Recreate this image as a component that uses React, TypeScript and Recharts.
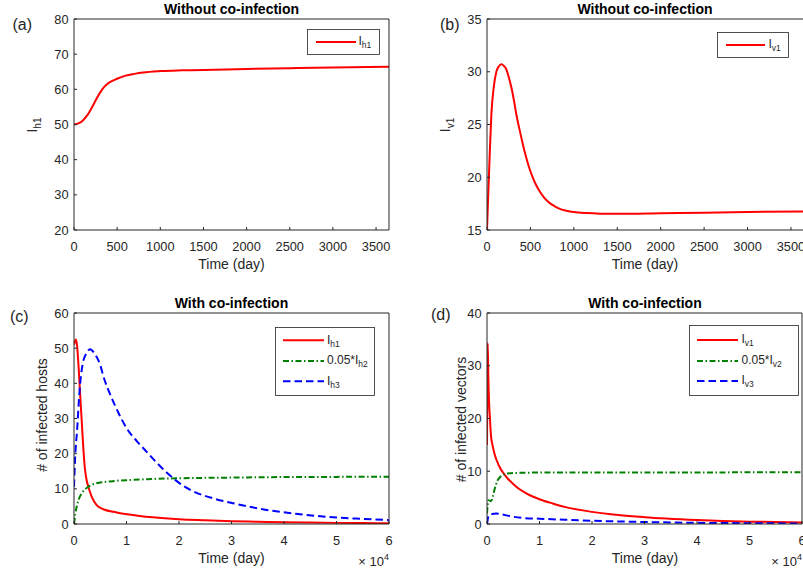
import React from 'react';
import { LineChart, Line, XAxis, YAxis, Legend } from 'recharts';

const FONT = '"Liberation Sans", Arial, Helvetica, sans-serif';
const AXIS = '#262626';
const RED = '#ff0000';
const GREEN = '#008000';
const BLUE = '#0000ff';
const DASH = '7.5 4';
const DASHDOT = '6 2.5 1.5 2.5';

// (a) I_h1 without co-infection
const A_T = [0, 50, 100, 150, 200, 250, 300, 350, 400, 500, 600, 700, 800, 1000, 1250, 1500, 2000, 2500, 3000, 3650];
const A_IH1 = [50, 50.3, 51.1, 52.5, 54.5, 56.8, 59.0, 60.7, 61.8, 63.0, 63.9, 64.4, 64.8, 65.2, 65.4, 65.5, 65.8, 66.0, 66.2, 66.4];

// (b) I_v1 without co-infection
const B_T = [0, 15, 31, 50, 77, 108, 135, 166, 195, 224, 250, 281, 310, 339, 367, 397, 425, 454, 490, 531, 570, 608, 660, 723, 780, 839, 900, 954, 1050, 1146, 1300, 1500, 2000, 2500, 3000, 3650];
const B_IV1 = [15, 18.5, 22.1, 25.9, 28.5, 30.0, 30.5, 30.7, 30.55, 30.2, 29.5, 28.5, 27.3, 25.9, 24.8, 23.7, 22.7, 21.8, 20.8, 19.9, 19.2, 18.65, 18.05, 17.55, 17.25, 17.0, 16.85, 16.75, 16.65, 16.6, 16.55, 16.53, 16.58, 16.64, 16.7, 16.76];

// (c) hosts with co-infection
const C_T_H1 = [0, 200, 380, 600, 900, 1143, 1460, 1778, 2095, 2400, 2730, 3365, 4318, 5587, 8127, 10540, 12500, 15000, 20000, 25000, 30000, 35000, 40000, 45000, 50000, 55000, 60000];
const C_IH1 = [51, 52, 52.5, 50.5, 44, 37.5, 29.6, 21.5, 15.5, 12.5, 10.6, 7.8, 5.4, 4.2, 3.3, 2.7, 2.3, 1.9, 1.35, 1.05, 0.8, 0.65, 0.5, 0.4, 0.32, 0.27, 0.22];
const C_T_H2 = [0, 250, 508, 900, 1460, 2000, 2730, 3500, 4318, 5500, 6857, 8500, 10540, 15000, 20000, 30000, 40000, 50000, 60000];
const C_IH2 = [0, 2.8, 4.9, 7.0, 8.7, 9.7, 10.6, 11.2, 11.6, 11.9, 12.1, 12.35, 12.5, 12.8, 13.0, 13.2, 13.35, 13.4, 13.45];
const C_T_H3 = [0, 190, 635, 1016, 1650, 2400, 3050, 4000, 5000, 5600, 6850, 8500, 10000, 12000, 13800, 15700, 17600, 20200, 22700, 26500, 30300, 36700, 43000, 49400, 55000, 60000];
const C_IH3 = [10.5, 18, 27.7, 37, 45.5, 48.6, 49.7, 48.3, 45.2, 42, 37, 31.5, 27.3, 23.5, 20.6, 17.5, 14.7, 11.5, 9.3, 7.3, 5.9, 4.0, 2.8, 1.9, 1.45, 1.1];

// (d) vectors with co-infection
const D_T_V1 = [0, 60, 130, 250, 400, 580, 770, 1000, 1400, 2350, 3630, 5520, 8070, 10000, 12500, 15000, 20000, 25000, 30000, 40000, 50000, 60000];
const D_IV1 = [15, 25, 34.3, 28, 23, 19.7, 16.6, 15.2, 13.4, 10.9, 9.0, 7.1, 5.5, 4.7, 3.9, 3.2, 2.3, 1.7, 1.3, 0.78, 0.45, 0.3];
const D_T_V2 = [0, 150, 320, 770, 1100, 1400, 2040, 2500, 2990, 3500, 4260, 6000, 10000, 20000, 40000, 60000];
const D_IV2 = [2.0, 3.8, 4.5, 4.3, 5.2, 6.4, 8.3, 8.9, 9.3, 9.5, 9.6, 9.7, 9.75, 9.75, 9.78, 9.8];
const D_T_V3 = [0, 200, 450, 1000, 1715, 2500, 4260, 6800, 10000, 15000, 20000, 30000, 40000, 50000, 60000];
const D_IV3 = [0, 1.2, 1.7, 1.9, 2.0, 1.9, 1.5, 1.15, 1.0, 0.8, 0.62, 0.38, 0.22, 0.15, 0.1];

const DAY_TICKS = [0, 500, 1000, 1500, 2000, 2500, 3000, 3500];
const E4_TICKS = [0, 10000, 20000, 30000, 40000, 50000, 60000];

const zip = (t: number[], v: number[]) => t.map((x, i) => ({ t: x, v: v[i] }));

type Series = { key: string; data: { t: number; v: number }[]; color: string; dash?: string };
type Row = { pre?: string; sub: string; color: string; dash?: string };

const LegendBox = ({ w, h, rows, rowY, lx0, lx1, tx }: any) => (
  <svg width={w} height={h} style={{ display: 'block', fontFamily: FONT }}>
    <rect x={0.5} y={0.5} width={w - 1} height={h - 1} fill="#fff" stroke={AXIS} strokeWidth={0.8} />
    {rows.map((r: Row, i: number) => (
      <g key={i}>
        <line x1={lx0} x2={lx1} y1={rowY[i]} y2={rowY[i]} stroke={r.color} strokeWidth={2} strokeDasharray={r.dash} />
        <text x={tx} y={rowY[i] + 3.3} fontSize={12} fill={AXIS}>
          {(r.pre || '') + 'I'}
          <tspan dy={3} fontSize={8.5}>{r.sub}</tspan>
        </text>
      </g>
    ))}
  </svg>
);

// axis strips: bottom 30px, left 40px, top/right 1px (must be > 0 to be drawn)
const XH = 30;
const YW = 40;

const Panel = ({ box, plot, xMax, xTicks, e4, yMin, yMax, yTicks, series, legend, annot }: any) => {
  const tickStyle = { fontSize: 12.8, fill: AXIS, fontFamily: FONT };
  const margin = {
    top: plot.top - 1,
    left: plot.left - YW,
    right: box.w - plot.right - 1,
    bottom: box.h - plot.bottom - XH,
  };
  return (
    <div style={{ position: 'absolute', left: box.x, top: box.y }}>
      <LineChart width={box.w} height={box.h} margin={margin}>
        <XAxis dataKey="t" type="number" domain={[0, xMax]} ticks={xTicks} interval={0} allowDataOverflow
          height={XH} tickSize={-3} tickMargin={15} stroke={AXIS} tick={tickStyle}
          tickFormatter={(v: number) => (e4 ? String(v / 10000) : String(v))} />
        <XAxis xAxisId="top" orientation="top" dataKey="t" type="number" domain={[0, xMax]} ticks={xTicks}
          interval={0} allowDataOverflow height={1} tickSize={-3} tick={false} stroke={AXIS} />
        <YAxis type="number" domain={[yMin, yMax]} ticks={yTicks} interval={0} allowDataOverflow
          width={YW} tickSize={-3} tickMargin={8.5} stroke={AXIS} tick={tickStyle}
          label={{ content: () => annot }} />
        <YAxis yAxisId="right" orientation="right" type="number" domain={[yMin, yMax]} ticks={yTicks}
          interval={0} allowDataOverflow width={1} tickSize={-3} tick={false} stroke={AXIS} />
        {series.map((s: Series) => (
          <Line key={s.key} data={s.data} dataKey="v" type="monotone" stroke={s.color} strokeWidth={2}
            strokeDasharray={s.dash} dot={false} activeDot={false} isAnimationActive={false} />
        ))}
        <Legend layout="vertical" align="center" verticalAlign="middle"
          wrapperStyle={{ left: legend.x, top: legend.y, width: legend.w, height: legend.h }}
          content={() => <LegendBox {...legend} />} />
      </LineChart>
    </div>
  );
};

const Annot = ({ tag, tagX, tagY, title, titleX, titleY, xlab, xlabY, ylab, ysub, ylabX, ylabY, e4X, e4Y }: any) => (
  <g style={{ fontFamily: FONT }}>
    <text x={tagX} y={tagY} fontSize={16} fill={AXIS}>{tag}</text>
    <text x={titleX} y={titleY} fontSize={14} fontWeight="bold" textAnchor="middle" fill="#000">{title}</text>
    <text x={titleX} y={xlabY} fontSize={14} textAnchor="middle" fill={AXIS}>{xlab}</text>
    <text x={ylabX} y={ylabY} transform={`rotate(-90 ${ylabX} ${ylabY})`} fontSize={14} textAnchor="middle" fill={AXIS}>
      {ylab}
      {ysub ? <tspan dy={3.5} fontSize={10}>{ysub}</tspan> : null}
    </text>
    {e4X ? (
      <text x={e4X} y={e4Y} fontSize={13} textAnchor="end" fill={AXIS}>
        {'\u00d7 10'}
        <tspan dy={-5.5} fontSize={9}>4</tspan>
      </text>
    ) : null}
  </g>
);

export default function App() {
  return (
    <div style={{ position: 'absolute', left: 0, top: 0, width: 803, height: 571, overflow: 'hidden', background: '#fff', fontFamily: FONT }}>
      <Panel
        box={{ x: 0, y: 0, w: 400, h: 280 }}
        plot={{ left: 74, top: 19, right: 389, bottom: 230 }}
        xMax={3650} xTicks={DAY_TICKS} yMin={20} yMax={80} yTicks={[20, 30, 40, 50, 60, 70, 80]}
        series={[{ key: 'ih1', data: zip(A_T, A_IH1), color: RED }]}
        legend={{ x: 307, y: 29, w: 73, h: 26, rows: [{ sub: 'h1', color: RED }], rowY: [13], lx0: 9, lx1: 49, tx: 51.5 }}
        annot={<Annot tag="(a)" tagX={12.5} tagY={30} title="Without co-infection" titleX={231.5} titleY={14}
          xlab="Time (day)" xlabY={269} ylab="I" ysub="h1" ylabX={37} ylabY={125} />}
      />
      <Panel
        box={{ x: 400, y: 0, w: 405, h: 280 }}
        plot={{ left: 87, top: 19, right: 404, bottom: 230 }}
        xMax={3650} xTicks={DAY_TICKS} yMin={15} yMax={35} yTicks={[15, 20, 25, 30, 35]}
        series={[{ key: 'iv1', data: zip(B_T, B_IV1), color: RED }]}
        legend={{ x: 317, y: 32, w: 72, h: 26, rows: [{ sub: 'v1', color: RED }], rowY: [13], lx0: 9, lx1: 48, tx: 51.5 }}
        annot={<Annot tag="(b)" tagX={40} tagY={30} title="Without co-infection" titleX={245} titleY={14}
          xlab="Time (day)" xlabY={269} ylab="I" ysub="v1" ylabX={50} ylabY={125} />}
      />
      <Panel
        box={{ x: 0, y: 280, w: 400, h: 291 }}
        plot={{ left: 74, top: 33, right: 389, bottom: 244 }}
        xMax={60000} xTicks={E4_TICKS} e4 yMin={0} yMax={60} yTicks={[0, 10, 20, 30, 40, 50, 60]}
        series={[
          { key: 'ih1', data: zip(C_T_H1, C_IH1), color: RED },
          { key: 'ih2', data: zip(C_T_H2, C_IH2), color: GREEN, dash: DASHDOT },
          { key: 'ih3', data: zip(C_T_H3, C_IH3), color: BLUE, dash: DASH },
        ]}
        legend={{
          x: 275, y: 47, w: 100, h: 69,
          rows: [
            { sub: 'h1', color: RED },
            { pre: '0.05*', sub: 'h2', color: GREEN, dash: DASHDOT },
            { sub: 'h3', color: BLUE, dash: DASH },
          ],
          rowY: [13.3, 34, 54.3], lx0: 8, lx1: 49, tx: 52,
        }}
        annot={<Annot tag="(c)" tagX={10} tagY={42} title="With co-infection" titleX={231.5} titleY={28}
          xlab="Time (day)" xlabY={283} ylab="# of infected hosts" ylabX={46.5} ylabY={135} e4X={389} e4Y={285.5} />}
      />
      <Panel
        box={{ x: 400, y: 280, w: 403, h: 291 }}
        plot={{ left: 87, top: 33, right: 402, bottom: 244 }}
        xMax={60000} xTicks={E4_TICKS} e4 yMin={0} yMax={40} yTicks={[0, 10, 20, 30, 40]}
        series={[
          { key: 'iv1', data: zip(D_T_V1, D_IV1), color: RED },
          { key: 'iv2', data: zip(D_T_V2, D_IV2), color: GREEN, dash: DASHDOT },
          { key: 'iv3', data: zip(D_T_V3, D_IV3), color: BLUE, dash: DASH },
        ]}
        legend={{
          x: 289, y: 45, w: 110, h: 71,
          rows: [
            { sub: 'v1', color: RED },
            { pre: '0.05*', sub: 'v2', color: GREEN, dash: DASHDOT },
            { sub: 'v3', color: BLUE, dash: DASH },
          ],
          rowY: [15, 36, 56], lx0: 8, lx1: 49, tx: 52.5,
        }}
        annot={<Annot tag="(d)" tagX={31} tagY={40} title="With co-infection" titleX={245} titleY={28}
          xlab="Time (day)" xlabY={283} ylab="# of infected vectors" ylabX={66} ylabY={139.5} e4X={402} e4Y={285.5} />}
      />
    </div>
  );
}
